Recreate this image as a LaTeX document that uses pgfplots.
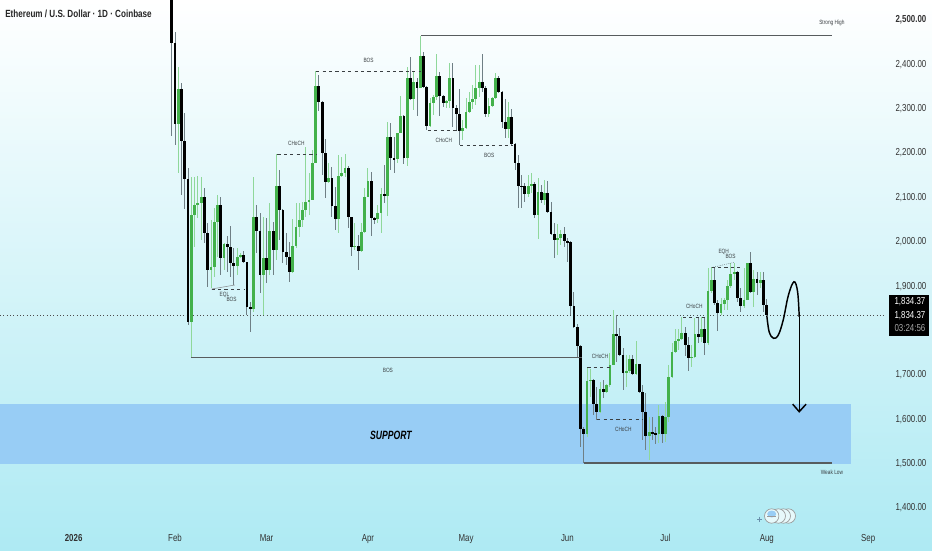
\documentclass[border=0pt]{standalone}
\usepackage{pgfplots}
\usepackage{pgfplotstable}
\pgfplotsset{compat=1.18}
\usepackage{fontspec}
\setmainfont[FakeStretch=0.78]{Liberation Sans}
\newfontfamily\suppfont[FakeStretch=0.72]{Liberation Sans}
\definecolor{bgb}{HTML}{AEEAF3}
\definecolor{supp}{HTML}{98CDF5}
\definecolor{gbody}{HTML}{43B14B}
\definecolor{gwick}{HTML}{8FD89A}
\definecolor{bwick}{HTML}{6F7F85}
\definecolor{anno}{HTML}{3A3F42}
\pgfplotstableread{
d o h l c
1 2265.6 2394.8 2154.4 2344.5
5 1820 2146.9 1740 2060.4
6 2060.4 2146.9 1989 2083
7 2083 2148.4 2053 2086.7
8 2086.7 2146.9 2004 2101.8
11 1936.5 2049.2 1895.1 1944
12 1944 2075.5 1921.4 2045.4
13 2045.4 2105.5 1966.5 2083
15 1962.8 1996.6 1936.5 1994.3
19 1946.2 1985.3 1925.2 1966.5
20 1966.5 1974 1962.8 1970.3
24 1848.5 2146.9 1842.5 2055.2
27 1925.2 2056.7 1835 1962.8
29 1936.5 2088.2 1925.2 2025.1
31 1981.6 2197.9 1959 2125.8
36 1932.7 2050.7 1929 1990.6
37 1990.6 2086.7 1985.3 2034.1
38 2034.1 2086.7 2011.6 2049.2
39 2049.2 2090.5 2034.1 2071.7
40 2071.7 2214.5 2056.7 2090.5
41 2090.5 2154.4 2060.4 2094.3
42 2094.3 2207 2094.3 2176.9
43 2176.9 2385 2176.9 2351.2
47 2135.6 2176.9 2131.8 2143.1
50 2050.7 2195.7 2020.6 2149.1
51 2149.1 2191.9 2146.9 2154.4
52 2154.4 2197.2 2146.9 2165.6
55 1989 2041.7 1981.6 1990.5
57 1980 2041.6 1977.8 2022.9
58 2022.9 2120.5 2019.1 2101.8
59 2101.8 2165.6 2101.8 2137.8
62 2050.7 2083 2041.6 2064.2
63 2064.2 2120.5 2019.1 2107.8
65 2104 2270.8 2058.2 2237
68 2186.7 2246 2176.9 2244.5
69 2244.5 2328.7 2244.5 2284.3
71 2189.7 2394.8 2171.6 2368.5
73 2321.9 2383.5 2297.1 2359.5
75 2346 2463.9 2346 2418.9
78 2261 2323.4 2258 2312.2
79 2312.2 2330.9 2285.9 2325.7
80 2325.7 2423.4 2319.7 2373.8
83 2313.7 2319.7 2300.9 2318.2
84 2318.2 2402.3 2300.9 2368.5
88 2250.5 2274.6 2229.5 2255.8
89 2255.8 2323.4 2253.5 2293.4
90 2293.4 2338.4 2289.6 2314.4
91 2314.4 2353.5 2298.6 2321.2
92 2321.2 2398.6 2308.4 2346
93 2346 2398.6 2325.7 2359.5
96 2288.1 2323.4 2282.1 2306.1
97 2306.1 2325.7 2303.1 2323.4
98 2323.4 2379.8 2321.2 2370
102 2254.3 2315.9 2233.3 2280.6
108 2107 2150.6 2101.8 2125.8
109 2125.8 2154.4 2109.3 2130.3
111 2060.4 2143.1 2005.6 2111.5
113 2094.2 2139.3 2083 2109.3
117 2004.1 2040.1 1970.3 2007.8
118 2007.8 2026.6 1992.8 2017.6
126 1566 1714.8 1560.7 1687
127 1687 1712.5 1650.9 1688.5
130 1617.1 1684.7 1614.8 1668.2
132 1662.2 1679 1658.4 1677.2
133 1677.2 1748.6 1673.4 1722.3
134 1722.3 1846.3 1722.3 1791.4
138 1705 1744.8 1673.4 1708.8
139 1708.8 1744.8 1703.5 1735.8
141 1702 1776.4 1699.7 1723.8
145 1562.2 1605.8 1508.1 1572
148 1566.7 1632.1 1545.7 1607.3
150 1566.7 1639.6 1549.5 1605.8
151 1605.8 1722.3 1594.5 1696
152 1696 1771.1 1692.2 1752.3
153 1752.3 1802.7 1748.6 1776.4
154 1776.4 1802.7 1756.1 1781.6
155 1781.6 1831.2 1778.6 1795.2
158 1738.8 1767.4 1718.5 1741.1
159 1741.1 1827.5 1737.3 1792.2
161 1784.6 1831.2 1774.9 1802.7
163 1771.1 1940.2 1767.4 1889.1
164 1889.1 1944 1883.8 1913.9
167 1838.7 1872.6 1835 1859.8
168 1859.8 1872.6 1846.3 1868.8
169 1868.8 1913.9 1846.3 1900.4
170 1900.4 1951.5 1895.1 1927.4
171 1927.4 1951.5 1913.9 1932.7
174 1856 1940.2 1850 1868.8
175 1868.8 1952.5 1868.8 1951.5
177 1887.6 1936.4 1852.3 1916.1
179 1906.4 1932.7 1895.1 1913.9
}\greentable
\pgfplotstableread{
d o h l c
-1 2600 2640 2238.5 2447.4
0 2447.4 2472.2 2218.2 2265.6
2 2344.5 2357.2 2105.5 2228
3 2228 2289.6 2073.2 2140.8
4 2140.8 2167.1 1812.5 1820
9 2101.8 2122 1996.6 2019.1
10 2019.1 2041.7 1898.9 1936.5
14 2083 2100.3 1925.2 1962.8
16 1994.3 2013.1 1932.7 1989
17 1989 2036.4 1921.4 1951.5
18 1951.5 1985.3 1902.7 1946.2
21 1970.3 1980 1951.5 1953.8
22 1953.8 1955.2 1835 1853.8
23 1853.8 1865.1 1797.4 1848.5
25 2055.2 2083 1974 2025.1
26 2025.1 2064.2 1883.9 1925.2
28 1962.8 2053 1906.4 1936.5
30 2025.1 2045.4 1925.2 1981.6
32 2125.8 2161.9 2004.1 2071.7
33 2071.7 2073 1951.5 1976.3
34 1976.3 2019.1 1947.7 1966.5
35 1966.5 2000.3 1910.2 1932.7
44 2351.2 2376 2295.6 2315.9
45 2315.9 2317 2150.6 2201
46 2201 2231 2098 2135.6
48 2143.1 2169.4 2056.7 2080.7
49 2080.7 2124.3 2026.6 2050.7
53 2165.6 2171.7 2030.4 2055.2
54 2055.2 2056.7 1968 1989
56 1990.5 2015.3 1936.4 1980
60 2137.8 2156.6 2013.1 2052.9
61 2052.9 2056.7 2040.1 2050.7
64 2107.8 2173.1 2086.7 2104
66 2237 2268.6 2161.9 2188.2
67 2188.2 2237 2155.9 2186.7
70 2284.3 2285.9 2174.6 2189.7
72 2368.5 2415.8 2319.7 2321.9
74 2359.5 2368.5 2283.6 2346
76 2418.9 2427.1 2346 2349.7
77 2349.7 2351 2252 2261
81 2373.8 2383.5 2283.6 2329.4
82 2329.4 2330.9 2303.1 2313.7
85 2368.5 2403.8 2259.6 2300.9
86 2300.9 2308.4 2252 2287.4
87 2287.4 2344.5 2218.2 2250.5
94 2359.5 2423.4 2336.9 2347.5
95 2347.5 2351.2 2280.6 2288.1
99 2370 2373.8 2334.7 2338.4
100 2338.4 2340.7 2255.8 2270.8
101 2270.8 2321.2 2233.3 2254.3
103 2280.6 2298.6 2216 2220.5
104 2220.5 2222 2161.9 2176.9
105 2176.9 2195.7 2075.5 2126.5
106 2126.5 2150.6 2075.5 2125.8
107 2125.8 2131.8 2090.5 2107
110 2130.3 2135.6 2052.9 2060.4
112 2111.5 2128 2086.7 2094.2
114 2109.3 2137.1 2065.7 2067.9
115 2067.9 2090.5 2015.3 2017.6
116 2017.6 2041.6 1962.7 2004.1
119 2017.6 2032.6 1989 2001.1
120 2001.1 2007.8 1955.2 2000
121 2000 2001.1 1835 1855.3
122 1855.3 1887.6 1805 1807.2
123 1807.2 1814.7 1737.3 1765.9
124 1765.9 1767.4 1538.2 1578
125 1578 1583.3 1502 1566
128 1688.5 1690 1609.6 1634.4
129 1634.4 1673.4 1598.3 1617.1
131 1668.2 1688.5 1648.6 1662.2
135 1791.4 1835 1729.8 1787.7
136 1787.7 1804.9 1742.6 1744.8
137 1744.8 1759.9 1665.9 1705
140 1735.8 1744.8 1699.7 1702
142 1723.8 1725 1658.4 1660.7
143 1660.7 1677.2 1553.2 1617.1
144 1617.1 1658.4 1530.7 1562.2
146 1572 1605.8 1553.2 1568.2
147 1568.2 1583.3 1544.2 1566.7
149 1607.3 1609.6 1545.7 1566.7
156 1795.2 1808.7 1742.6 1767.4
157 1767.4 1786.2 1709.5 1738.8
160 1792.2 1827.5 1771.1 1784.6
162 1802.7 1831.2 1744.8 1771.1
165 1913.9 1940.2 1857.5 1861.3
166 1861.3 1868.8 1799.7 1838.7
172 1932.7 1934 1865 1874.1
173 1874.1 1895.1 1842.5 1856
176 1951.5 1976.3 1883.8 1887.6
178 1916.1 1932.7 1880.1 1906.4
180 1913.9 1932.7 1842.5 1857.5
181 1857.5 1870.3 1829.7 1834.37
}\blacktable
\newcommand{\ann}{\fontsize{4.6pt}{5pt}\selectfont\color{anno}}
\pgfplotsset{
 wick/.style={draw=none,mark=none,forget plot,
   error bars/.cd,y dir=both,y explicit,error mark=none,
   error bar style={line width=0.7pt,draw=#1}},
 body/.style={draw=none,mark=none,forget plot,
   error bars/.cd,y dir=both,y explicit,error mark=none,
   error bar style={line width=2.1pt,draw=#1}},
 dsh/.style={anno,line width=0.6pt,dash pattern=on 2.4pt off 2.4pt,forget plot},
 sol/.style={anno!85!white,line width=0.8pt,forget plot},
}
\begin{document}
\begin{tikzpicture}[x=0.75pt,y=-0.75pt]
\path[use as bounding box] (0,0) rectangle (932,550);
\shade[top color=white,bottom color=bgb] (0,0) rectangle (932,550);
\begin{axis}[
  at={(0pt,-412.5pt)},anchor=south west,scale only axis,
  width=663.75pt,height=412.5pt,
  xmin=-53.52,xmax=217.13,ymin=1305.2,ymax=2545.1,
  axis line style={draw=none},major tick length=0pt,
  clip mode=individual,
  ytick={1400,1500,1600,1700,1800,1900,2000,2100,2200,2300,2400,2500},
  yticklabels={1{,}400.00,1{,}500.00,1{,}600.00,1{,}700.00,,1{,}900.00,2{,}000.00,2{,}100.00,2{,}200.00,2{,}300.00,2{,}400.00,\textbf{2{,}500.00}},
  yticklabel pos=right,
  yticklabel style={font=\fontsize{7.6pt}{8pt}\selectfont,color=black!80,anchor=east,xshift=34.5pt},
  xtick={-31,0,28,59,89,120,150,181,212},
  xticklabels={\textbf{2026},Feb,Mar,Apr,May,Jun,Jul,Aug,Sep},
  xticklabel style={font=\fontsize{7.6pt}{8pt}\selectfont,color=black!80,anchor=base,yshift=6.5pt},
]
% support zone
\addplot[fill=supp,draw=none,forget plot] coordinates {(-53.52,1634)(206.7,1634)(206.7,1499)(-53.52,1499)} -- cycle;
% last price line
\addplot[black!70,line width=0.5pt,dotted,forget plot] coordinates {(-53.52,1834.37)(217.13,1834.37)};
% candles
\addplot[wick=gwick] table[x=d,y expr=(\thisrow{h}+\thisrow{l})/2,y error expr=(\thisrow{h}-\thisrow{l})/2]{\greentable};
\addplot[wick=bwick] table[x=d,y expr=(\thisrow{h}+\thisrow{l})/2,y error expr=(\thisrow{h}-\thisrow{l})/2]{\blacktable};
\addplot[body=gbody] table[x=d,y expr=(\thisrow{o}+\thisrow{c})/2,y error expr=(\thisrow{c}-\thisrow{o})/2]{\greentable};
\addplot[body=black] table[x=d,y expr=(\thisrow{o}+\thisrow{c})/2,y error expr=(\thisrow{o}-\thisrow{c})/2]{\blacktable};
% structure lines
\addplot[sol] coordinates {(75.2,2465.5)(200.9,2465.5)};
\addplot[sol] coordinates {(4.9,1739.6)(124.5,1739.6)};
\addplot[sol] coordinates {(125,1501.3)(200.9,1501.3)};
\addplot[dsh] coordinates {(43.2,2384)(75.2,2384)};
\addplot[dsh] coordinates {(31.3,2197)(43.2,2197)};
\addplot[dsh] coordinates {(11.2,1893.6)(21.4,1893.6)};
\addplot[anno!60!white,line width=0.4pt,forget plot] coordinates {(11.2,1893.6)(18.3,1902.6)};
\addplot[dsh] coordinates {(77.3,2251.3)(87.2,2251.3)};
\addplot[dsh] coordinates {(87.2,2217.5)(103.5,2217.5)};
\addplot[dsh] coordinates {(126.1,1717.8)(133,1717.8)};
\addplot[dsh] coordinates {(129.1,1599)(143.2,1599)};
\addplot[dsh] coordinates {(155.3,1829.7)(162.6,1829.7)};
\addplot[dsh] coordinates {(164.1,1941.7)(173.8,1941.7)};
\addplot[anno,line width=0.4pt,densely dotted,forget plot] coordinates {(164.1,1941.7)(171,1953.8)};
% hand-drawn path
\addplot[black,line width=1.1pt,smooth,tension=0.6,forget plot] coordinates {(181,1832.7)(181.7,1797.3)(183,1782.5)(184.5,1789.9)(186,1823.7)(187.6,1880)(189.3,1910)(190.4,1887.5)(190.9,1831)};
\addplot[black,line width=1.1pt,forget plot] coordinates {(190.9,1831)(190.9,1617)};
\addplot[black,line width=1.1pt,forget plot] coordinates {(188.9,1634)(190.9,1617)(193,1634)};
% texts
\node[font=\ann] at (axis cs:200.9,2493) {Strong High};
\node[font=\ann] at (axis cs:200.9,1481) {Weak Low};
\node[font=\ann] at (axis cs:59.2,2408.3) {BOS};
\node[font=\ann] at (axis cs:37.1,2221) {CHoCH};
\node[font=\ann] at (axis cs:15.1,1880) {EQL};
\node[font=\ann] at (axis cs:17.3,1870) {BOS};
\node[font=\ann] at (axis cs:65.1,1711) {BOS};
\node[font=\ann] at (axis cs:82.2,2228.8) {CHoCH};
\node[font=\ann] at (axis cs:96.1,2195) {BOS};
\node[font=\ann] at (axis cs:130,1741) {CHoCH};
\node[font=\ann] at (axis cs:137.1,1577) {CHoCH};
\node[font=\ann] at (axis cs:158.8,1853.6) {CHoCH};
\node[font=\ann] at (axis cs:167.8,1977) {EQH};
\node[font=\ann] at (axis cs:169.9,1966.6) {BOS};
\node[font=\suppfont\fontsize{9pt}{10pt}\selectfont\itshape\bfseries\color{black}] at (axis cs:66,1564.5) {SUPPORT};
\end{axis}
% title
\node[anchor=west,inner sep=0pt,font=\fontsize{7.8pt}{8pt}\selectfont\bfseries,color=black!85] at (5,14) {Ethereum / U.S. Dollar · 1D · Coinbase};
% price tag
\fill[black] (889,295) rectangle (929,336);
\node[font=\fontsize{7.6pt}{8pt}\selectfont,color=white,anchor=east] at (930,302) {1,834.37};
\node[font=\fontsize{7.6pt}{8pt}\selectfont,color=white,anchor=east] at (930,316) {1,834.37};
\node[font=\fontsize{7.6pt}{8pt}\selectfont,color=black!35,anchor=east] at (930,328) {03:24:56};
% watermark
\foreach \cx in {788.3,783.3,778.3,771.7}{
  \fill[white!70!bgb,draw=black!40,line width=0.5pt] (\cx,516) circle[radius=7.2];
}
\fill[supp] (771.7,514) ellipse[x radius=4.5,y radius=3.5];
\draw[black!40,line width=0.5pt] (767,516) -- (776,516);
\draw[supp!70!black,line width=0.6pt] (757,519) -- (762,519) (759.5,516.5) -- (759.5,521.5);
\end{tikzpicture}
\end{document}
